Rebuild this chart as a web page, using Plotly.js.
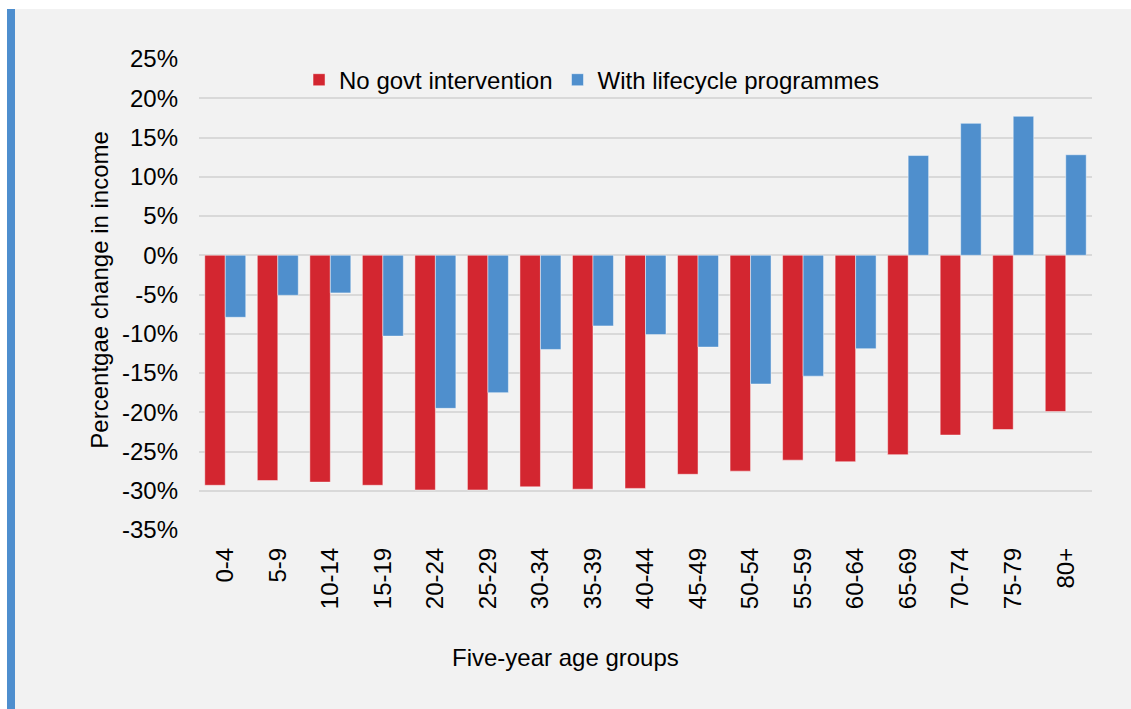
<!DOCTYPE html>
<html>
<head>
<meta charset="utf-8">
<script src="https://cdn.plot.ly/plotly-3.0.1.min.js"></script>
<style>
  html, body { margin: 0; padding: 0; background: #ffffff; }
  #frame { position: absolute; left: 7px; top: 9px; width: 1116px; height: 700px;
           background: #F2F2F2; border-left: 8px solid #4E8ECE; }
  #chart { position: absolute; left: 0; top: 0; width: 1131px; height: 709px; }
</style>
</head>
<body>
<div id="frame"></div>
<div id="chart"></div>
<script>
const ageGroups = ["0-4","5-9","10-14","15-19","20-24","25-29","30-34","35-39","40-44","45-49","50-54","55-59","60-64","65-69","70-74","75-79","80+"];
const noGovt = [-29.3,-28.7,-28.9,-29.3,-29.9,-29.9,-29.5,-29.8,-29.7,-27.9,-27.5,-26.1,-26.3,-25.4,-22.9,-22.2,-19.9];
const lifecycle = [-7.9,-5.1,-4.8,-10.3,-19.5,-17.5,-12.0,-9.0,-10.1,-11.7,-16.4,-15.4,-11.9,12.7,16.8,17.7,12.8];
const seriesNames = ["No govt intervention","With lifecycle programmes"];
const yTickVals = [-35,-30,-25,-20,-15,-10,-5,0,5,10,15,20,25];
const yTickText = ["-35%","-30%","-25%","-20%","-15%","-10%","-5%","0%","5%","10%","15%","20%","25%"];
const yTitle = "Percentgae change in income";
const xTitle = "Five-year age groups";

const font = {family: "Liberation Sans, Arial, sans-serif", size: 24, color: "#000000"};

const traces = [
  {type: "bar", name: seriesNames[0], x: ageGroups, y: noGovt,
   marker: {color: "#D32630", line: {color: "rgba(255,255,255,0.45)", width: 1}}},
  {type: "bar", name: seriesNames[1], x: ageGroups, y: lifecycle,
   marker: {color: "#4F8FCD", line: {color: "rgba(255,255,255,0.45)", width: 1}}}
];

const layout = {
  width: 1131, height: 709,
  paper_bgcolor: "rgba(0,0,0,0)", plot_bgcolor: "rgba(0,0,0,0)",
  margin: {l: 199, r: 39, t: 59, b: 179, autoexpand: false},
  font: font,
  barmode: "group", bargap: 0.22, bargroupgap: 0,
  showlegend: true,
  legend: {orientation: "h", x: 0.2644, xref: "container", xanchor: "left",
           y: 0.887, yref: "container", yanchor: "middle", bgcolor: "rgba(0,0,0,0)",
           font: font, itemwidth: 30, traceorder: "normal"},
  xaxis: {type: "category", tickangle: -90, showgrid: false, zeroline: false,
          showline: false, ticks: "", ticklabelstandoff: 12, tickfont: font, fixedrange: true},
  yaxis: {range: [-35, 25], tickmode: "array", tickvals: yTickVals, ticktext: yTickText,
          showgrid: true, gridcolor: "#D9D9D9", gridwidth: 2, zeroline: false, showline: false,
          ticks: "", ticklabelstandoff: 20, tickfont: font, fixedrange: true},
  annotations: [
    {text: yTitle, xref: "paper", yref: "paper", x: -0.111, y: 0.51,
     textangle: -90, showarrow: false, font: font, xanchor: "center", yanchor: "middle"},
    {text: xTitle, xref: "paper", yref: "paper", x: 0.41, y: -0.27,
     showarrow: false, font: font, xanchor: "center", yanchor: "middle"}
  ]
};

Plotly.newPlot("chart", traces, layout, {displayModeBar: false, staticPlot: true});
</script>
</body>
</html>
